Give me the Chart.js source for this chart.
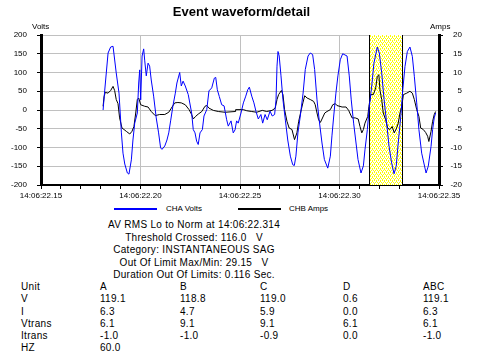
<!DOCTYPE html>
<html>
<head>
<meta charset="utf-8">
<script src="https://cdn.jsdelivr.net/npm/chart.js@4.4.1/dist/chart.umd.min.js"></script>
<style>
  body { margin: 0; background: #fff; }
  #wrap { position: relative; width: 483px; height: 364px; overflow: hidden; font-family: "Liberation Sans", Arial, sans-serif; color: #000; }
  #chartBox { position: absolute; left: 0; top: 0; width: 483px; height: 200px; }
  #title { position: absolute; left: 0; top: 4px; width: 483px; text-align: center; font-weight: bold; font-size: 13px; line-height: 16px; }
  .small { position: absolute; font-size: 8px; line-height: 10px; white-space: pre; }
  .swatch { position: absolute; height: 2px; width: 43px; }
  #info { position: absolute; left: 0; top: 219px; width: 388px; text-align: center; font-size: 10px; line-height: 12.5px; letter-spacing: 0.3px; white-space: pre; }
  .cell { position: absolute; font-size: 10px; line-height: 12px; letter-spacing: 0.3px; white-space: pre; }
</style>
</head>
<body>
<div id="wrap">
  <div id="chartBox"><canvas id="waveChart"></canvas></div>
  <div id="title">Event waveform/detail</div>
  <div class="small" style="left:32px;top:22px;">Volts</div>
  <div class="small" style="left:430px;top:22px;">Amps</div>
  <div class="swatch" style="left:114px;top:208px;background:#0000ff;"></div>
  <div class="small" style="left:166px;top:204px;">CHA Volts</div>
  <div class="swatch" style="left:238px;top:208px;background:#000;"></div>
  <div class="small" style="left:289px;top:204px;">CHB Amps</div>
  <div id="info"></div>
  <div id="table"></div>
</div>
<script>
// time in ms after 14:06:22.000
const voltTimes = [181.2, 182.0, 183.7, 185.0, 186.2, 187.8, 189.2, 190.4, 191.2, 192.1, 193.4, 194.2, 195.4, 196.2, 197.1,
    198.4, 199.1, 199.6, 200.1, 200.8, 201.6, 202.1, 202.9, 203.8, 204.6, 205.4, 206.6, 207.9, 209.1, 210.1, 210.8,
    212.2, 213.3, 214.2, 215.2, 216.3, 217.5, 218.3, 219.7, 220.5, 221.4, 222.5, 224.0, 225.7, 226.5, 227.4, 228.2,
    229.0, 229.9, 231.1, 231.9, 233.3, 234.4, 235.8, 237.1, 237.8, 238.6, 239.6, 240.8, 242.0, 243.3, 244.1, 245.5,
    246.6, 247.5, 248.3, 249.1, 250.5, 251.7, 252.9, 253.9, 254.7, 255.9, 257.0, 258.0, 259.2, 260.5, 261.4, 262.6,
    263.7, 265.1, 266.2, 267.4, 268.1, 268.6, 269.1, 269.7, 270.6, 271.6, 272.8, 274.0, 275.3, 276.5, 277.3, 278.1,
    279.1, 280.3, 281.7, 282.8, 284.2, 285.3, 286.5, 287.5, 288.7, 289.8, 291.2, 292.4, 294.1, 295.4, 296.2, 297.1,
    298.2, 299.2, 300.4, 301.6, 303.8, 304.9, 305.9, 307.1, 308.3, 309.3, 310.8, 312.0, 312.8, 314.0, 315.0, 316.2,
    317.3, 319.0, 320.0, 321.2, 322.4, 323.7, 324.9, 326.2, 327.4, 328.5, 329.5, 330.8, 331.8, 332.9, 334.1, 335.4,
    336.6, 337.6, 338.8, 339.9, 341.3, 343.5, 344.6, 346.0, 346.8, 347.6, 348.3];
const voltValues = [0, 51, 152, 168, 170, 99, 45, -61, -115, -144, -168, -171, -133, -80, -35,
    -8, 72, 107, 27, 144, 163, 133, 91, 125, 117, 80, 37, -21, -61, -101, -105,
    -96, -80, -61, -27, 11, 45, 72, 100, 64, 77, 64, 41, -8, -52, -61, -83,
    -92, -61, -52, -16, 1, 51, 59, 85, 87, 54, 36, 14, 11, -26, -43, -29,
    -61, -53, -29, -35, -8, 19, 37, 54, 61, 37, 19, -3, -24, -12, -35, -12,
    -26, -3, -16, -12, 27, 117, 156, 144, 91, 27, -27, -80, -123, -146, -148, -123,
    -61, -16, 45, 108, 144, 152, 148, 108, 27, -27, -88, -132, -155, -123, -69, -16,
    45, 91, 134, 150, 144, 91, 27, -35, -88, -132, -168, -149, -106, -52, 11, 64,
    125, 168, 152, 99, 28, -35, -97, -141, -170, -150, -88, -17, 54, 116, 156, 168,
    143, 90, 19, -52, -115, -168, -150, -97, -52, -21, -8];

const ampTimes = [181.2, 181.7, 182.3, 183.7, 185.0, 186.2, 187.0, 187.8, 188.7, 189.5, 190.7, 191.7, 192.9, 194.6, 195.7,
    196.7, 197.6, 198.4, 199.1, 200.1, 202.1, 203.8, 205.4, 207.4, 209.6, 212.2, 214.2, 215.5, 217.2, 218.8, 220.5,
    222.5, 224.4, 225.7, 226.5, 227.7, 229.0, 230.8, 232.4, 233.3, 234.4, 236.6, 239.1, 242.5, 247.5, 247.8, 251.7,
    253.4, 255.9, 258.4, 261.2, 263.4, 266.1, 267.7, 268.6, 269.4, 270.8, 271.6, 272.4, 273.6, 274.7, 276.1, 277.4,
    278.6, 279.5, 280.8, 281.6, 282.5, 283.7, 285.3, 287.0, 287.8, 288.7, 289.5, 290.4, 291.2, 292.6, 293.7, 295.4,
    296.6, 297.9, 298.7, 301.3, 303.3, 304.6, 306.3, 307.9, 309.4, 310.3, 311.2, 312.0, 312.8, 314.2, 314.8, 315.7,
    317.0, 318.2, 319.0, 319.8, 320.3, 321.2, 322.0, 323.2, 324.2, 325.4, 326.5, 327.5, 328.7, 329.5, 330.4, 331.3,
    332.1, 333.8, 335.4, 336.6, 337.6, 338.8, 339.9, 340.8, 342.1, 343.3, 344.3, 344.9, 346.0, 346.8, 347.6, 348.3];
const ampValues = [1.0, 3.6, 4.7, 4.5, 5.2, 6.3, 5.2, 2.8, 1.7, -2.1, -4.8, -5.2, -5.7, -6.4, -5.7,
    -4.4, -0.8, 2.8, 3.2, 1.4, 1.0, 0.8, -0.4, -1.5, -1.2, -1.2, -0.6, 0.5, 1.9, 2.0, 1.9,
    1.4, 0.1, -1.2, -2.4, -1.7, -1.1, -0.4, 1.0, 1.2, 0.5, -0.1, -0.4, -0.6, -0.4, 0.1, 0.1,
    -0.2, -0.4, -0.6, -0.1, -0.4, -0.1, 0.5, 2.8, 4.1, 5.2, 4.1, 0.1, -3.0, -4.8, -5.2, -7.9,
    -6.1, -3.0, 0.1, 1.9, 3.8, 3.2, 2.8, 2.3, 1.4, -0.8, -2.6, -3.3, -2.4, -0.8, -0.4, 0.1,
    1.4, 1.7, 1.2, 0.8, 0.8, -0.1, -2.1, -2.1, -2.4, -4.4, -6.1, -5.2, -3.5, -1.7, 1.0, 4.1,
    4.1, 5.9, 9.0, 9.4, 5.4, 2.8, -0.8, -2.6, -4.8, -5.2, -4.4, -6.1, -4.8, -3.5, -0.8, 1.0,
    4.1, 4.5, 5.0, 4.5, 2.8, 0.1, -1.7, -4.8, -5.2, -6.0, -7.0, -8.4, -5.7, -3.0, -1.2, -0.4];

// highlighted event window (ms)
const eventWindow = [314.8, 331.2];

const infoLines = [
    'AV RMS Lo to Norm at 14:06:22.314',
    'Threshold Crossed: 116.0   V',
    'Category: INSTANTANEOUS SAG',
    'Out Of Limit Max/Min: 29.15   V',
    'Duration Out Of Limits: 0.116 Sec.'
];
const tableHeader = ['Unit', 'A', 'B', 'C', 'D', 'ABC'];
const tableRows = [
    ['V', '119.1', '118.8', '119.0', '0.6', '119.1'],
    ['I', '6.3', '4.7', '5.9', '0.0', '6.3'],
    ['Vtrans', '6.1', '9.1', '9.1', '6.1', '6.1'],
    ['Itrans', '-1.0', '-1.0', '-0.9', '0.0', '-1.0'],
    ['HZ', '60.0']
];

document.getElementById('info').textContent = infoLines.join('\n');

const colX = [21, 100, 180, 260, 343, 423];
const tableEl = document.getElementById('table');
[tableHeader].concat(tableRows).forEach((row, r) => {
    row.forEach((txt, c) => {
        const d = document.createElement('div');
        d.className = 'cell';
        d.style.left = colX[c] + 'px';
        d.style.top = (281 + r * 12.25) + 'px';
        d.textContent = txt;
        tableEl.appendChild(d);
    });
});

// dotted yellow fill for the event window
const tile = document.createElement('canvas');
tile.width = 4; tile.height = 4;
const tctx = tile.getContext('2d');
tctx.fillStyle = '#fff';
tctx.fillRect(0, 0, 4, 4);
tctx.fillStyle = '#ffff00';
[[0, 0], [2, 0], [1, 2], [3, 2], [0, 1], [2, 3]].forEach(p => tctx.fillRect(p[0], p[1], 1, 1));

const eventBand = {
    id: 'eventBand',
    beforeDatasetsDraw(chart) {
        const { ctx, chartArea, scales } = chart;
        const x1 = Math.round(scales.x.getPixelForValue(eventWindow[0]));
        const x2 = Math.round(scales.x.getPixelForValue(eventWindow[1]));
        ctx.save();
        ctx.fillStyle = ctx.createPattern(tile, 'repeat');
        ctx.fillRect(x1, chartArea.top, x2 - x1, chartArea.bottom - chartArea.top);
        ctx.strokeStyle = '#000';
        ctx.lineWidth = 1;
        ctx.beginPath();
        ctx.moveTo(x1 + 0.5, chartArea.top);
        ctx.lineTo(x1 + 0.5, chartArea.bottom);
        ctx.moveTo(x2 + 0.5, chartArea.top);
        ctx.lineTo(x2 + 0.5, chartArea.bottom);
        ctx.stroke();
        ctx.restore();
    }
};

const tickFont = { family: '"Liberation Sans", Arial, sans-serif', size: 8 };

new Chart(document.getElementById('waveChart').getContext('2d'), {
    type: 'line',
    data: {
        datasets: [{
            label: 'CHA Volts',
            data: voltTimes.map((t, i) => ({ x: t, y: voltValues[i] })),
            borderColor: '#0000ff',
            borderWidth: 1,
            pointRadius: 0,
            tension: 0,
            yAxisID: 'y'
        }, {
            label: 'CHB Amps',
            data: ampTimes.map((t, i) => ({ x: t, y: ampValues[i] })),
            borderColor: '#000000',
            borderWidth: 1,
            pointRadius: 0,
            tension: 0,
            yAxisID: 'y1'
        }]
    },
    options: {
        responsive: true,
        maintainAspectRatio: false,
        animation: false,
        layout: { padding: { top: 35, right: 21, left: 0, bottom: 0 } },
        plugins: {
            legend: { display: false },
            tooltip: { enabled: false }
        },
        scales: {
            x: {
                type: 'linear',
                min: 150,
                max: 350,
                afterFit: (scale) => { scale.height = 15; },
                border: { color: '#000', width: 2 },
                grid: {
                    color: (c) => (c.tick && c.tick.value % 50 === 0 ? '#c0c0c0' : 'rgba(0,0,0,0)'),
                    tickColor: '#000',
                    tickLength: 4
                },
                ticks: {
                    stepSize: 10,
                    autoSkip: false,
                    maxRotation: 0,
                    padding: 2,
                    color: '#000',
                    font: tickFont,
                    callback: (v) => (v % 50 === 0 ? '14:06:22.' + (v / 10) : '')
                }
            },
            y: {
                position: 'left',
                min: -200,
                max: 200,
                afterFit: (scale) => { scale.width = 41; },
                border: { color: '#000', width: 3 },
                grid: { color: '#c0c0c0', tickColor: '#000', tickLength: 4 },
                ticks: { stepSize: 50, padding: 10, color: '#000', font: tickFont }
            },
            y1: {
                position: 'right',
                min: -20,
                max: 20,
                afterFit: (scale) => { scale.width = 23; },
                border: { color: '#000', width: 3 },
                grid: { drawOnChartArea: false, tickColor: '#000', tickLength: 4 },
                ticks: { stepSize: 5, crossAlign: 'far', color: '#000', font: tickFont }
            }
        }
    },
    plugins: [eventBand]
});
</script>
</body>
</html>
